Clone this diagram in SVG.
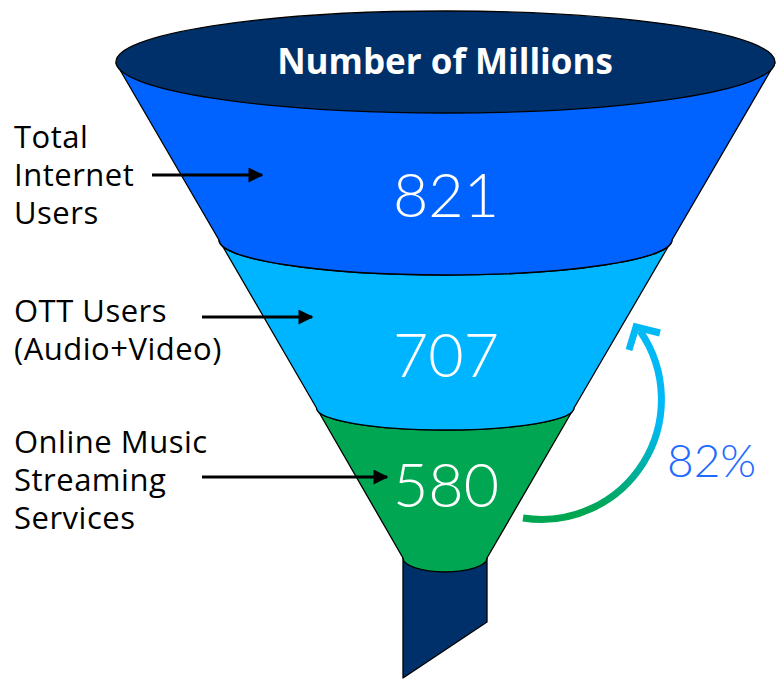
<svg xmlns="http://www.w3.org/2000/svg" width="782" height="684" viewBox="0 0 782 684">
<defs>
<style>
.edge{stroke:#000;stroke-width:1.3;stroke-linejoin:round}
.lbl{font-family:"Open Sans","Noto Sans",sans-serif;font-size:31px;letter-spacing:0.5px;fill:#000}
.num{font-family:Lato,"Noto Sans",sans-serif;font-size:61px;font-weight:300;fill:#fff;text-anchor:middle}
.conn{stroke:#000;stroke-width:3;fill:none;marker-end:url(#ah)}
</style>
<marker id="ah" viewBox="0 0 10 10" refX="9" refY="5" markerWidth="5.5" markerHeight="5" orient="auto" markerUnits="strokeWidth">
<path d="M0,0 L10,5 L0,10 Z" fill="#000"/>
</marker>
<linearGradient id="grad" gradientUnits="userSpaceOnUse" x1="0" y1="510" x2="0" y2="425">
<stop offset="0" stop-color="#00A651"/>
<stop offset="1" stop-color="#00B9F5"/>
</linearGradient>
</defs>
<rect width="782" height="684" fill="#fff"/>
<g id="spout">
<path class="edge" d="M403,556 L403,678 L487,622 L487,556 Z" fill="#003069"/>
</g>
<g id="band-580">
<path class="edge" d="M316.5,408 A128.75,22 0 0 0 574,408 L487,558 A42,14 0 0 1 403,558 Z" fill="#00A651"/>
<text class="num" x="446" y="507">580</text>
</g>
<g id="band-707">
<path class="edge" d="M219,240 A226.5,35 0 0 0 672,240 L574,408 A128.75,22 0 0 1 316.5,408 Z" fill="#00B5FF"/>
<text class="num" x="446" y="377">707</text>
</g>
<g id="band-821">
<path class="edge" d="M116,63 L219,240 A226.5,35 0 0 0 672,240 L775,63 Z" fill="#0063FF"/>
<text class="num" x="446" y="217">821</text>
</g>
<g id="top">
<ellipse class="edge" cx="445.5" cy="62" rx="329.5" ry="51" fill="#003069"/>
<text x="445" y="74" font-family="'Open Sans','Noto Sans',sans-serif" font-size="35" font-weight="bold" fill="#fff" text-anchor="middle">Number of Millions</text>
</g>
<g id="label-total">
<text class="lbl" x="14" y="148">Total</text>
<text class="lbl" x="14" y="186">Internet</text>
<text class="lbl" x="14" y="224">Users</text>
</g>
<g id="label-ott">
<text class="lbl" x="14" y="322">OTT Users</text>
<text class="lbl" x="14" y="360">(Audio+Video)</text>
</g>
<g id="label-music">
<text class="lbl" x="14" y="453">Online Music</text>
<text class="lbl" x="14" y="491">Streaming</text>
<text class="lbl" x="14" y="529">Services</text>
</g>
<g id="connectors">
<line class="conn" x1="152" y1="175" x2="262" y2="175"/>
<line class="conn" x1="202" y1="317" x2="312" y2="317"/>
<line class="conn" x1="202" y1="477" x2="387" y2="477"/>
<path d="M523,518 A120,120 0 0 0 640,331" fill="none" stroke="url(#grad)" stroke-width="7"/>
<polyline points="629,350 636,327 660,333" fill="none" stroke="#00B9F5" stroke-width="7"/>
</g>
<g id="pct">
<text x="667" y="477" font-family="Lato,'Noto Sans',sans-serif" font-size="46" font-weight="300" fill="#1F6BFF">82%</text>
</g>
</svg>
